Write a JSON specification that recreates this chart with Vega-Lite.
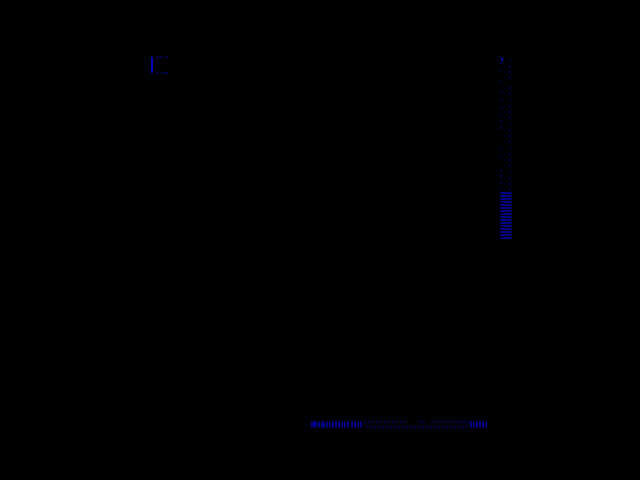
{
  "$schema": "https://vega.github.io/schema/vega-lite/v6.json",
  "autosize": "none",
  "width": 640,
  "height": 480,
  "padding": 0,
  "background": "black",
  "config": {"view": {"stroke": null}},
  "datasets": {
    "bottomBars": [
      {"v": 312}, {"v": 314}, {"v": 316}, {"v": 319}, {"v": 322}, {"v": 324}, {"v": 327}, {"v": 330},
      {"v": 333}, {"v": 336}, {"v": 339}, {"v": 342}, {"v": 345}, {"v": 348}, {"v": 352}, {"v": 355},
      {"v": 358}, {"v": 361}, {"v": 471}, {"v": 474}, {"v": 477}, {"v": 480}, {"v": 483}, {"v": 486}
    ],
    "rightBars": [
      {"w": 193}, {"w": 196}, {"w": 199}, {"w": 202}, {"w": 205}, {"w": 208}, {"w": 211}, {"w": 214},
      {"w": 217}, {"w": 220}, {"w": 223}, {"w": 226}, {"w": 229}, {"w": 232}, {"w": 235}, {"w": 238}
    ],
    "dots": [
      {"x": 365, "y": 422}, {"x": 369, "y": 422}, {"x": 373, "y": 422}, {"x": 377, "y": 422}, {"x": 381, "y": 422},
      {"x": 385, "y": 422}, {"x": 389, "y": 422}, {"x": 393, "y": 422}, {"x": 397, "y": 422}, {"x": 401, "y": 422},
      {"x": 405, "y": 422}, {"x": 420, "y": 422}, {"x": 424, "y": 422}, {"x": 432, "y": 422}, {"x": 436, "y": 422},
      {"x": 440, "y": 422}, {"x": 444, "y": 422}, {"x": 448, "y": 422}, {"x": 452, "y": 422}, {"x": 456, "y": 422},
      {"x": 459, "y": 422}, {"x": 462, "y": 422}, {"x": 465, "y": 422}, {"x": 468, "y": 422},
      {"x": 367, "y": 427}, {"x": 371, "y": 427}, {"x": 375, "y": 427}, {"x": 379, "y": 427}, {"x": 383, "y": 427},
      {"x": 387, "y": 427}, {"x": 391, "y": 427}, {"x": 395, "y": 427}, {"x": 399, "y": 427}, {"x": 403, "y": 427},
      {"x": 407, "y": 427}, {"x": 411, "y": 427}, {"x": 415, "y": 427}, {"x": 419, "y": 427}, {"x": 423, "y": 427},
      {"x": 427, "y": 427}, {"x": 431, "y": 427}, {"x": 435, "y": 427}, {"x": 439, "y": 427}, {"x": 443, "y": 427},
      {"x": 447, "y": 427}, {"x": 451, "y": 427}, {"x": 455, "y": 427}, {"x": 459, "y": 427}, {"x": 463, "y": 427},
      {"x": 467, "y": 427},
      {"x": 501, "y": 63}, {"x": 501, "y": 70}, {"x": 501, "y": 82}, {"x": 501, "y": 92}, {"x": 501, "y": 100},
      {"x": 501, "y": 108}, {"x": 501, "y": 115}, {"x": 501, "y": 121}, {"x": 501, "y": 128}, {"x": 501, "y": 149},
      {"x": 501, "y": 157}, {"x": 501, "y": 170}, {"x": 501, "y": 176}, {"x": 501, "y": 183}, {"x": 501, "y": 189},
      {"x": 510, "y": 61}, {"x": 510, "y": 67}, {"x": 510, "y": 72}, {"x": 510, "y": 78}, {"x": 510, "y": 88},
      {"x": 510, "y": 94}, {"x": 510, "y": 100}, {"x": 510, "y": 106}, {"x": 510, "y": 112}, {"x": 510, "y": 118},
      {"x": 510, "y": 124}, {"x": 510, "y": 130}, {"x": 510, "y": 136}, {"x": 510, "y": 142}, {"x": 510, "y": 148},
      {"x": 510, "y": 154}, {"x": 510, "y": 160}, {"x": 510, "y": 166}, {"x": 510, "y": 172}, {"x": 510, "y": 178},
      {"x": 510, "y": 184}, {"x": 510, "y": 190},
      {"x": 157, "y": 57}, {"x": 160, "y": 57}, {"x": 162, "y": 57}, {"x": 167, "y": 57},
      {"x": 157, "y": 73}, {"x": 162, "y": 73}, {"x": 165, "y": 73}, {"x": 167, "y": 73}
    ],
    "rules": [
      {"x": 152, "y1": 57, "y2": 73},
      {"x": 502, "y1": 58, "y2": 61}
    ]
  },
  "layer": [
    {
      "data": {"name": "bottomBars"},
      "mark": {"type": "tick", "orient": "vertical", "color": "#0000ff", "size": 6, "thickness": 1.5},
      "encoding": {
        "x": {"field": "v", "type": "quantitative", "scale": {"domain": [0, 640], "nice": false, "zero": false}, "axis": null},
        "y": {"datum": 424.5, "type": "quantitative", "scale": {"domain": [0, 480], "reverse": true, "nice": false, "zero": false}, "axis": null}
      }
    },
    {
      "data": {"name": "rightBars"},
      "mark": {"type": "tick", "orient": "horizontal", "color": "#0000ff", "size": 11, "thickness": 1.5},
      "encoding": {
        "x": {"datum": 506, "type": "quantitative"},
        "y": {"field": "w", "type": "quantitative"}
      }
    },
    {
      "data": {"name": "rules"},
      "mark": {"type": "rule", "color": "#0000ff", "strokeWidth": 1.5},
      "encoding": {
        "x": {"field": "x", "type": "quantitative"},
        "y": {"field": "y1", "type": "quantitative"},
        "y2": {"field": "y2"}
      }
    },
    {
      "data": {"name": "dots"},
      "mark": {"type": "square", "color": "#0000ff", "size": 1.5, "opacity": 1},
      "encoding": {
        "x": {"field": "x", "type": "quantitative"},
        "y": {"field": "y", "type": "quantitative"}
      }
    }
  ]
}
